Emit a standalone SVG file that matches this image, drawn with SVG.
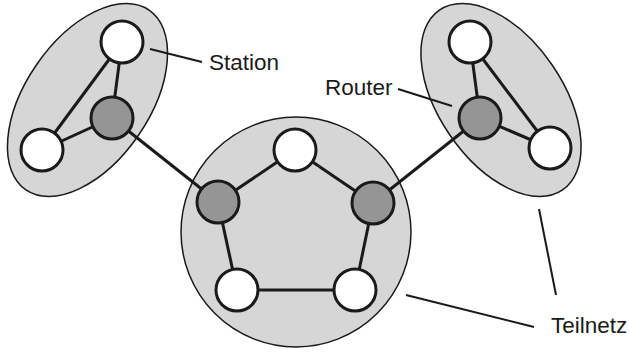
<svg xmlns="http://www.w3.org/2000/svg" width="629" height="353" viewBox="0 0 629 353">
  <style>
    .net { fill: #d6d6d6; stroke: #1a1a1a; stroke-width: 1.5; }
    .link { stroke: #1a1a1a; stroke-width: 3; fill: none; }
    .lead { stroke: #1a1a1a; stroke-width: 2; fill: none; }
    .station { fill: #ffffff; stroke: #1a1a1a; stroke-width: 3; }
    .router { fill: #959595; stroke: #1a1a1a; stroke-width: 3; }
    .label { font-family: "Liberation Sans", Arial, sans-serif; font-size: 22.5px; fill: #1a1a1a; }
  </style>
  <rect width="629" height="353" fill="#ffffff"/>

  <!-- subnet areas -->
  <g id="subnet-left">
    <ellipse class="net" cx="87.5" cy="100" rx="62" ry="109" transform="rotate(34.4 87.5 100)"/>
  </g>
  <g id="subnet-center">
    <circle class="net" cx="296" cy="232" r="115"/>
  </g>
  <g id="subnet-right">
    <ellipse class="net" cx="501" cy="100" rx="62" ry="109" transform="rotate(-34.4 501 100)"/>
  </g>

  <!-- links and label leaders -->
  <g id="connectors">
    <line class="link" x1="122" y1="42" x2="42" y2="150"/>
    <line class="link" x1="122" y1="42" x2="112" y2="118"/>
    <line class="link" x1="112" y1="118" x2="42" y2="150"/>
    <line class="link" x1="112" y1="118" x2="218" y2="202"/>

    <line class="link" x1="470" y1="42" x2="550" y2="148"/>
    <line class="link" x1="470" y1="42" x2="480" y2="118"/>
    <line class="link" x1="480" y1="118" x2="550" y2="148"/>
    <line class="link" x1="480" y1="118" x2="373" y2="203"/>

    <line class="link" x1="295" y1="150" x2="218" y2="202"/>
    <line class="link" x1="295" y1="150" x2="373" y2="203"/>
    <line class="link" x1="218" y1="202" x2="237" y2="290"/>
    <line class="link" x1="373" y1="203" x2="355" y2="290"/>
    <line class="link" x1="237" y1="290" x2="355" y2="290"/>

    <line class="lead" x1="150" y1="49" x2="202" y2="62"/>
    <line class="lead" x1="398" y1="89" x2="452" y2="106"/>
    <line class="lead" x1="539" y1="209" x2="556" y2="295"/>
    <line class="lead" x1="406" y1="295" x2="534" y2="327"/>
  </g>

  <!-- nodes -->
  <g id="station-l1"><circle class="station" cx="122" cy="42" r="21"/></g>
  <g id="station-l2"><circle class="station" cx="42" cy="150" r="21"/></g>
  <g id="router-l"><circle class="router" cx="112" cy="118" r="21"/></g>

  <g id="station-r1"><circle class="station" cx="470" cy="42" r="21"/></g>
  <g id="station-r2"><circle class="station" cx="550" cy="148" r="21"/></g>
  <g id="router-r"><circle class="router" cx="480" cy="118" r="21"/></g>

  <g id="station-c1"><circle class="station" cx="295" cy="150" r="21"/></g>
  <g id="router-c1"><circle class="router" cx="218" cy="202" r="21"/></g>
  <g id="router-c2"><circle class="router" cx="373" cy="203" r="21"/></g>
  <g id="station-c2"><circle class="station" cx="237" cy="290" r="21"/></g>
  <g id="station-c3"><circle class="station" cx="355" cy="290" r="21"/></g>

  <!-- labels -->
  <g id="labels">
    <text class="label" x="209" y="70">Station</text>
    <text class="label" x="325" y="95">Router</text>
    <text class="label" x="551" y="333">Teilnetz</text>
  </g>
</svg>
